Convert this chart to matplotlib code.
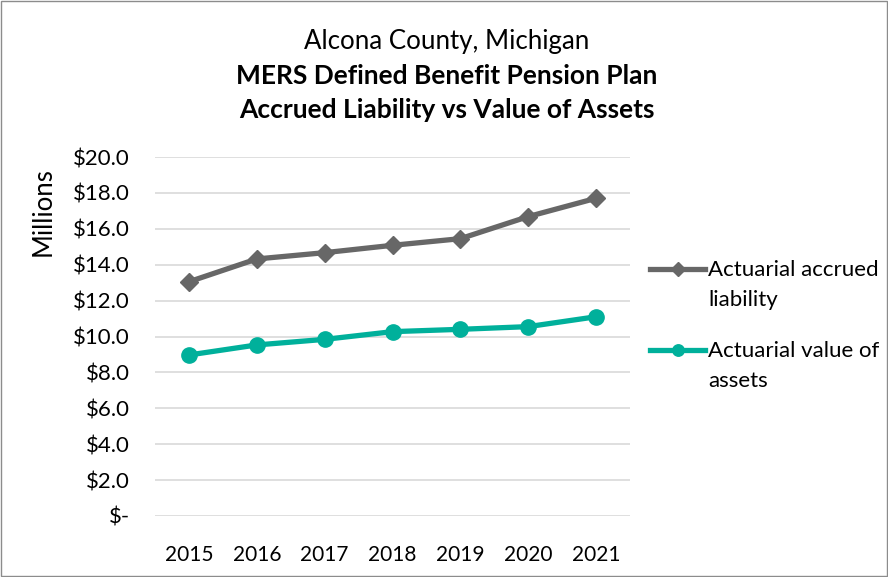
import matplotlib
matplotlib.use('Agg')
import matplotlib.pyplot as plt
from matplotlib.lines import Line2D
import numpy as np

years = ['2015', '2016', '2017', '2018', '2019', '2020', '2021']
accrued_liability = [13.05, 14.32, 14.67, 15.08, 15.45, 16.68, 17.70]
value_of_assets = [8.97, 9.53, 9.84, 10.27, 10.40, 10.55, 11.10]
y_ticks = [0, 2, 4, 6, 8, 10, 12, 14, 16, 18, 20]
y_labels = ['$-'] + ['$%.1f' % v for v in y_ticks[1:]]
series_labels = ['Actuarial accrued\nliability', 'Actuarial value of\nassets']

plt.rcParams['font.family'] = ['Lato', 'DejaVu Sans']

fig = plt.figure(figsize=(8.88, 5.77), dpi=100)
ax = fig.add_axes([155 / 888, 1 - 516 / 577, 475 / 888, 359 / 577])

x = np.arange(len(years))
gray = '#676767'
teal = '#00B09B'
styles = [dict(color=gray, marker='D', ms=9), dict(color=teal, marker='o', ms=11)]
ax.plot(x, accrued_liability, lw=3.8, **styles[0])
ax.plot(x, value_of_assets, lw=3.8, **styles[1])

ax.set_xlim(-0.5, len(years) - 0.5)
ax.set_ylim(0, 20)
ax.set_yticks(y_ticks)
ax.set_yticklabels(y_labels, fontsize=16)
ax.set_xticks(x)
ax.set_xticklabels(years, fontsize=15)
ax.grid(axis='y', color='#d9d9d9', lw=1.2)
ax.set_axisbelow(True)
for s in ax.spines.values():
    s.set_visible(False)
ax.tick_params(axis='x', length=0, pad=21)
ax.tick_params(axis='y', length=0, pad=18)

fig.text(43 / 888, 1 - 212 / 577, 'Millions', rotation=90, ha='center', va='center', fontsize=18.5)

fig.text(447 / 888, 1 - 42 / 577, 'Alcona County, Michigan', ha='center', va='center', fontsize=18.6)
fig.text(447 / 888, 1 - 76 / 577, 'MERS Defined Benefit Pension Plan', ha='center', va='center',
         fontsize=19, fontweight='bold')
fig.text(447 / 888, 1 - 110 / 577, 'Accrued Liability vs Value of Assets', ha='center', va='center',
         fontsize=19, fontweight='bold')

# legend drawn by hand so the handle sits on the first text line
for i, (lab, st) in enumerate(zip(series_labels, styles)):
    yl = 1 - (269 + 81 * i) / 577
    h = Line2D([650 / 888, 705 / 888], [yl, yl], transform=fig.transFigure, lw=3.8,
               color=st['color'])
    m = Line2D([677.5 / 888], [yl], transform=fig.transFigure, marker=st['marker'],
               ms=st['ms'] * 0.75, color=st['color'])
    fig.lines.extend([h, m])
    fig.text(708 / 888, yl + 9 / 577, lab, ha='left', va='top', fontsize=16, linespacing=1.6)

border = plt.Rectangle((0.001, 0.001), 0.998, 0.998, transform=fig.transFigure,
                       fill=False, edgecolor='#8c8c8c', lw=1)
fig.patches.append(border)

fig.savefig('out.png', dpi=100)
